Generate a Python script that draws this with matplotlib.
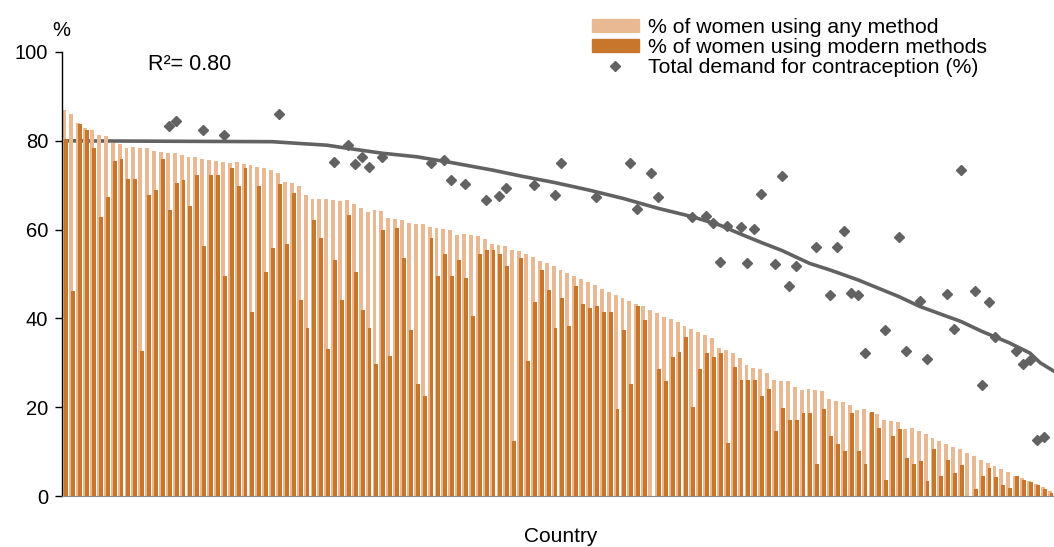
import numpy as np
import matplotlib.pyplot as plt
from matplotlib.patches import Patch
from matplotlib.lines import Line2D

plt.rcParams['font.family'] = ['Liberation Sans', 'DejaVu Sans']

# % of women using any method (countries sorted by this)
any_method = [86.9, 86.1, 84.0, 82.8, 82.4, 81.3, 81.0, 79.4, 79.3, 78.4, 78.7, 78.4, 78.3, 77.8,
              77.5, 77.3, 77.2, 76.9, 76.3, 76.4, 75.8, 75.7, 75.4, 75.2, 74.9, 75.2, 74.7, 74.5, 74.2,
              73.9, 73.4, 72.7, 70.7, 70.4, 69.8, 67.7, 67.0, 66.8, 67.0, 66.7, 66.4, 66.7, 65.8,
              64.8, 64.0, 64.4, 64.2, 62.7, 62.4, 62.2, 61.4, 61.3, 61.3, 60.5, 60.3, 60.1, 59.8, 58.8,
              59.0, 58.8, 58.6, 57.8, 56.8, 56.6, 56.3, 55.3, 55.1, 54.5, 53.8, 53.0, 52.4, 51.7,
              50.9, 50.3, 49.6, 48.8, 48.1, 47.5, 46.6, 46.0, 45.3, 44.6, 44.0, 43.3, 42.7, 42.0, 41.2,
              40.4, 39.9, 39.1, 38.4, 37.6, 36.9, 36.3, 35.6, 33.3, 32.8, 32.1, 31.0, 29.4, 28.8,
              28.5, 27.7, 26.2, 26.0, 25.8, 24.6, 23.8, 24.1, 23.8, 23.6, 21.9, 21.3, 21.1, 20.4, 19.3,
              19.5, 18.7, 18.4, 17.2, 16.9, 16.6, 15.1, 15.4, 14.6, 13.9, 13.1, 12.4, 11.6, 11.1,
              10.5, 9.6, 9.0, 8.1, 7.5, 6.7, 6.1, 5.4, 4.6, 4.0, 3.4, 2.8, 2.1, 1.1]

# % of women using modern methods
modern = [80.5, 46.1, 83.7, 82.5, 78.3, 62.9, 67.4, 75.5, 76.0, 71.5, 71.5, 32.6, 67.9, 68.9,
          76.0, 64.4, 70.6, 71.2, 65.3, 72.4, 56.3, 72.4, 72.4, 49.6, 73.8, 69.8, 73.8, 41.5, 69.8,
          50.4, 55.8, 70.2, 56.7, 68.3, 44.2, 37.8, 62.2, 58.1, 33.0, 53.2, 44.2, 63.4, 50.4,
          41.9, 37.8, 29.8, 59.9, 31.6, 60.3, 53.6, 37.5, 25.3, 22.6, 58.1, 49.6, 54.5, 49.6, 53.2,
          49.1, 40.6, 54.5, 55.4, 55.4, 54.5, 51.8, 12.4, 53.6, 30.3, 43.8, 50.9, 46.4, 37.8,
          44.6, 38.4, 47.3, 43.3, 42.3, 42.8, 41.5, 41.5, 19.5, 37.5, 25.3, 42.8, 39.7, 0.0, 28.5,
          25.8, 31.3, 32.5, 35.7, 20.0, 28.5, 32.1, 31.2, 32.1, 12.0, 29.0, 26.2, 26.2, 26.2,
          22.6, 24.0, 14.6, 19.9, 17.2, 17.2, 18.6, 18.6, 7.3, 19.5, 13.6, 11.8, 10.1, 18.6, 10.1,
          7.3, 18.9, 15.4, 3.7, 13.6, 15.0, 8.6, 7.3, 7.9, 3.4, 10.5, 4.6, 8.2, 5.1,
          6.9, 0.0, 1.5, 4.6, 6.4, 4.2, 2.4, 1.9, 4.6, 3.7, 3.1, 2.4, 1.5, 0.7]

# total demand for contraception (only some countries)
demand_idx = [15, 16, 20, 23, 31, 39, 41, 42, 43, 44, 46, 53, 55, 56, 58, 61, 63, 64, 68, 71,
              72, 77, 82, 83, 85, 86, 91, 93, 94, 95, 96, 98, 99, 100, 101, 103, 104, 105, 106, 109,
              111, 112, 113, 114, 115, 116, 119, 121, 122, 124, 125, 128, 129, 130, 132, 133, 134, 135, 138, 139,
              140, 141, 142]
demand_val = [83.4, 84.4, 82.4, 81.3, 86.0, 75.3, 79.1, 74.8, 76.4, 74.2, 76.4, 75.1, 75.7, 71.2, 70.3, 66.7, 67.5, 69.4, 70.0, 67.9,
              75.1, 67.4, 74.9, 64.7, 72.7, 67.4, 62.8, 63.1, 61.4, 52.7, 60.9, 60.5, 52.4, 60.1, 68.0, 52.3, 72.1, 47.4, 51.9, 56.0,
              45.2, 56.0, 59.6, 45.7, 45.2, 32.1, 37.5, 58.3, 32.7, 43.9, 30.8, 45.6, 37.7, 73.4, 46.1, 24.9, 43.8, 35.8, 32.6, 29.8,
              30.6, 12.6, 13.3]

# trend line
trend_idx = [-0.5, 30, 38, 41, 46, 51, 56, 62, 66, 71, 76, 81, 86, 91, 95, 98, 101, 104, 108, 111,
             115, 121, 124, 130, 133, 137, 140, 141.5, 143.5]
trend_val = [80.0, 79.8, 79.0, 78.3, 77.2, 76.4, 75.1, 73.4, 72.1, 70.6, 68.9, 67.0, 64.8, 62.9, 61.0, 59.0, 57.1, 55.3, 52.4, 50.9,
             48.7, 44.9, 42.7, 39.3, 37.1, 34.5, 32.2, 30.0, 28.1]

light_c = '#E9B993'
dark_c = '#C8762B'
grey_c = '#626262'

fig = plt.figure(figsize=(10.54, 5.47), dpi=100)
ax = fig.add_axes([62 / 1054, 51 / 547, 992 / 1054, 444 / 547])

x = np.arange(len(any_method))
ax.plot(trend_idx, trend_val, color=grey_c, lw=2.6, zorder=1.5)
ax.bar(x - 0.14, any_method, width=0.57, color=light_c, zorder=2)
ax.bar(x + 0.14, modern, width=0.57, color=dark_c, zorder=3)
ax.plot(demand_idx, demand_val, 'D', color=grey_c, ms=5.5, lw=0, zorder=4)

ax.set_xlim(-0.5, len(any_method) - 0.5)
ax.set_ylim(0, 100)
ax.set_yticks([0, 20, 40, 60, 80, 100])
ax.set_xticks([])
ax.tick_params(axis='y', labelsize=14.5, length=5, width=1, direction='out', pad=5)
ax.spines['top'].set_visible(False)
ax.spines['right'].set_visible(False)
ax.spines['bottom'].set_color('#8c8c8c')
ax.spines['left'].set_linewidth(1)

fig.text(61 / 1054, 1 - 31 / 547, '%', ha='center', va='center', fontsize=14.5)
fig.text(148 / 1054, 1 - 64 / 547, 'R²= 0.80', ha='left', va='center', fontsize=15.5)
fig.text(561 / 1054, 1 - 537 / 547, 'Country', ha='center', va='center', fontsize=15)

handles = [Patch(color=light_c), Patch(color=dark_c),
           Line2D([], [], marker='D', color=grey_c, lw=0, ms=5.5)]
labels = ['% of women using any method', '% of women using modern methods',
          'Total demand for contraception (%)']
fig.legend(handles, labels, loc='upper left', bbox_to_anchor=(592 / 1054, 1 - 18 / 547),
           frameon=False, fontsize=15.3, handlelength=2.2, handleheight=0.55,
           handletextpad=0.42, labelspacing=0.05, borderpad=0, borderaxespad=0)

fig.savefig('out.png', dpi=100)
